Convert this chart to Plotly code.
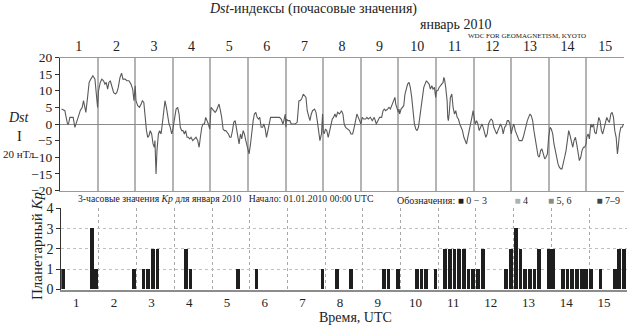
import plotly.graph_objects as go

# ---------------- data ----------------
days = [str(d) for d in range(1, 16)]

dst_hours = [1.0, 2.2, 3.1, 3.7, 4.8, 5.4, 6.3, 7.4, 8.4, 9.5, 10.3, 11.6, 12.9, 14.2, 15.0, 15.9, 16.5, 17.6, 18.6, 19.7,
             21.0, 22.3, 23.1, 24.0, 24.6, 25.7, 26.7, 27.8, 28.7, 29.5, 30.4, 31.2, 32.1, 33.1, 34.2, 35.3, 36.3, 37.2,
             38.3, 39.3, 40.2, 41.5, 42.7, 44.0, 45.3, 46.4, 47.2, 48.0, 48.5, 49.6, 50.7, 51.8, 52.6, 53.5, 54.3, 55.2,
             56.0, 56.8, 57.6, 58.5, 59.4, 60.2, 60.6, 61.3, 61.9, 62.8, 63.6, 64.5, 65.3, 66.2, 67.0, 67.9, 68.7, 69.6,
             70.4, 71.3, 71.9, 73.0, 74.1, 75.1, 76.0, 76.8, 77.7, 78.5, 79.4, 80.2, 81.1, 81.9, 82.8, 83.6, 84.7, 85.8,
             86.8, 87.9, 88.8, 89.6, 90.5, 91.3, 92.2, 93.0, 93.9, 94.7, 95.6, 96.4, 97.3, 98.1, 99.0, 99.8, 100.7, 101.5,
             102.4, 103.2, 104.1, 105.0, 105.8, 106.7, 107.5, 108.4, 109.2, 110.1, 110.9, 111.8, 112.6, 113.5, 114.3,
             115.2, 116.0, 116.9, 117.7, 118.6, 119.5, 120.3, 120.7, 121.6, 122.4, 123.3, 124.1, 125.0, 125.8, 126.7,
             127.5, 128.4, 129.3, 130.1, 131.0, 131.8, 132.7, 133.5, 134.4, 135.6, 136.9, 138.2, 139.0, 140.1, 141.2,
             142.3, 142.9, 143.8, 144.2, 144.6, 145.4, 146.7, 147.6, 148.9, 150.1, 151.4, 152.5, 153.3, 154.2, 155.3,
             156.1, 157.0, 157.8, 158.7, 159.5, 160.4, 161.2, 162.5, 163.4, 164.2, 165.1, 165.9,
             166.9, 167.6, 168.0, 168.6, 169.5, 170.3, 171.2, 172.1, 172.9, 173.8, 174.6, 175.5, 176.3, 177.2, 178.4,
             179.7, 180.6, 181.4, 182.3, 183.6, 184.8, 185.7, 186.8, 187.8, 188.7, 189.5, 190.4, 191.2, 192.1, 192.9,
             193.8, 195.1, 195.9, 196.8, 198.1, 199.3, 200.6, 201.9, 202.8, 204.0, 205.3, 206.2, 207.0, 207.9, 209.1,
             210.0, 210.9, 212.1, 213.0, 213.8, 214.3, 215.1, 216.0, 216.4, 216.8, 217.7, 218.5, 219.4, 220.2, 221.1,
             221.9, 222.8, 223.6, 224.5, 225.3, 226.2, 227.1, 227.9, 228.8, 229.6, 230.5, 231.3, 232.2, 233.0, 233.9,
             234.7, 235.6, 236.4, 237.3, 238.1, 239.0, 239.4, 239.8, 240.3, 241.1, 242.0, 242.8, 243.7, 244.5, 245.0,
             245.4, 246.2, 247.1, 247.5, 247.9, 248.4, 249.2, 250.1, 250.9, 251.8, 252.6, 253.5, 254.3, 255.2, 256.0,
             256.9, 257.8, 258.6, 259.5, 260.3, 261.2, 262.0, 262.9, 263.7, 264.2, 265.0, 265.9, 266.7, 267.6, 268.4,
             269.3, 270.1, 271.0, 271.8, 272.7, 273.5, 274.4, 275.2, 276.1, 276.9, 277.8, 278.7, 279.5, 280.4, 281.2,
             282.1, 282.9, 283.8, 284.6, 285.5, 286.3, 287.2, 288.0, 288.9, 289.7, 290.6, 291.4, 292.3, 293.1, 294.0,
             294.9, 295.7, 296.6, 297.4, 298.3, 299.1, 300.0, 300.8, 301.7, 302.5, 303.4, 304.2, 305.1, 305.9, 306.8,
             307.6, 308.5, 309.4, 310.2, 311.1, 311.9, 312.8, 313.6, 314.5, 315.3, 316.2, 317.0, 317.9, 318.7, 319.6,
             320.4, 321.3, 322.1, 323.0, 323.8, 324.7, 325.6, 326.4, 327.3, 328.1, 329.0, 329.8, 330.7, 331.5, 332.4,
             333.2, 334.1, 334.9, 335.8, 336.2, 337.1, 337.9, 338.8, 339.6, 340.5, 341.3, 342.2, 343.0, 343.9, 344.7,
             345.6, 346.4, 347.3, 348.2, 349.0, 349.9, 350.7, 351.6, 352.4, 353.3, 354.1, 355.0, 355.8, 356.3, 357.1,
             358.0, 358.8, 359.7]

dst_values = [4.5, 4.3, 4, 2.5, 0, 0, 2, 2, 2, -1, 0, 2, 4, 5, 7, 4, 3.5, 8, 12.5, 13.5,
              14.5, 13.5, 10, 5, 10, 12.5, 13.5, 13, 12, 12.5, 10.5, 12.5, 13, 11, 9.5, 9, 9.5, 11,
              14, 15.3, 13.5, 13.5, 13, 13, 12, 10.5, 7, 11.5, 7, 5.5, 5, 6, 7, 6.5, 2, -2,
              -4, -3.5, -2, -3, -6, -7, -5, -15, -8, -3, -2, -3, 0, 5, 7, 5, 2, 0,
              -1, -3, -2, 2, 4.5, 5, 3, -1, -2, -2, -3, -2, -4, -4, -4.5, -4, -5, -4.5,
              -4, -5, -7, -4, -1, 0, 0, 2, 1, 0, -1.5, 5, 4.5, 4, 3.5, 4, 5, 6,
              4, 2, -1.5, -2, -2, -2.5, -3, -4, -4, -2, 0.5, 1, -1, -4, -6,
              -3, -4.5, -2, -3, -5, -7, -8.5, -9, -6, -2, 1, 3, 3.5, 2, 1.5,
              2, -1, -1, 0, -1.5, -4, -2, 0, 2, 2, 2, 2, 2, 2, 1.5,
              0, 1, 3, -1, 1.5, 1, 1, 0, 0, 0, 0.5, 7, 7, 7.5, 9,
              8.5, 8, 4, 2, 1, 3, 4, 4.5, 3.5, 1, -2, -5,
              -3, 3, -2, -3, -1.5, -2, -4, -2, 0, 1.5, 2, 3, 2, 3.5, 3,
              4, 3, 0, -1, -1.5, -2, -3, -3, -1, 1, 3, 2, 1, 0, 2,
              1.5, 1.5, 2, 1.5, 2, 1, 2, 0, 1, 2, 2, 4, 4.5, 4, 4.5,
              5, 4.5, 6, 7, 8, 6, 4.5, 3.5, 4.5, 3, 4.5, 5, 5.5, 9, 11,
              12, 12.5, 11, 8, 4, 0, -1.5, -2, -1, 2, 6, 9, 11, 12, 13,
              12.5, 12, 10.5, 11.5, 10.5, 11, 9.5, 8, 10, 10, 11, 11.5, 12, 12.5, 14,
              13.5, 11, 7, 2, 1, 3, 8, 9, 5, 3, 4, 2, 1.5, 0, -1,
              -2, -4, -5, -6, -4, -2, -1, 2, 4, 2, 0, 1, 0, -2, -1,
              0, -1, -3, -4, -3, 0, 1, 1.5, 1, -1, -2, -3, -2, -1, 0,
              -1, -3, -1, -0.5, 1, 1, 0, -3, -1, 0, -2, -3, -4, -5, -5,
              -5, -4, -2, -1, 1, 2, 3, 2.5, 1, -2, -5, -7, -9.5, -10, -8,
              -7.5, -9, -10.5, -10, -9, -4, -1, -1.5, -3, -6, -8, -10.5, -12, -13, -13.5,
              -13.5, -12, -10, -8, -5, -2, -3.5, -5.5, -7, -5, -4, -6, -9, -11, -10,
              -8, -7, -7, -6, -4, -3, -4.5, 0, -1, 0, -2.5, -3, -1, 2, 1,
              -2, -3, -1, 1, 2, 1, 0.5, 3, 3.5, 2, -2, -4, -9, -7, -3,
              -1, -1, 0]

# Kp, 3-hourly, 8 values per day, Jan 1..15 2010
kp_values = [1, 0, 0, 0, 0, 0, 3, 1,
             0, 0, 0, 0, 0, 0, 0, 1,
             0, 1, 1, 2, 2, 0, 0, 0,
             0, 0, 2, 1, 0, 0, 0, 0,
             0, 0, 0, 0, 0, 1, 0, 0,
             0, 1, 0, 0, 0, 0, 0, 0,
             0, 0, 0, 0, 0, 0, 0, 1,
             0, 0, 1, 0, 0, 1, 0, 0,
             0, 0, 0, 0, 1, 1, 0, 1,
             0, 0, 0, 1, 1, 1, 0, 1,
             0, 2, 2, 2, 2, 2, 1, 1,
             1, 2, 0, 0, 0, 0, 1, 2,
             3, 2, 1, 1, 1, 2, 0, 2,
             2, 0, 1, 1, 1, 1, 1, 1,
             1, 0, 1, 0, 0, 1, 2, 2]
kp_hours = [3 * i + 1.5 for i in range(len(kp_values))]

dst_ticks = [-20, -15, -10, -5, 0, 5, 10, 15, 20]
kp_ticks = [0, 1, 2, 3, 4]

# ---------------- figure ----------------
W, H = 627, 325
SERIF = "Liberation Serif"


def px(x):
    return x / W


def py(y):
    return 1 - y / H


fig = go.Figure()

fig.add_trace(go.Scatter(x=dst_hours, y=dst_values, mode="lines",
                         line=dict(color="#5a5a5a", width=1.1),
                         xaxis="x", yaxis="y", showlegend=False))

fig.add_trace(go.Bar(x=kp_hours, y=kp_values, width=2.4,
                     marker=dict(color="#1e1e1e", line=dict(width=0)),
                     xaxis="x2", yaxis="y2", showlegend=False))

day_bounds = [24 * k for k in range(1, 15)]
day_centers = [24 * k + 12 for k in range(15)]
kp_label_pos = [24 * k + 9.5 for k in range(15)]

fig.update_layout(
    width=W, height=H,
    margin=dict(l=0, r=0, t=0, b=0, autoexpand=False),
    paper_bgcolor="white", plot_bgcolor="white",
    font=dict(family=SERIF, size=13, color="#222"),
    bargap=0,
    xaxis=dict(domain=[px(60), px(624)], range=[0, 360], anchor="y", automargin=False,
               side="top", tickvals=day_centers, ticktext=days, ticks="",
               showgrid=False, zeroline=False,
               showline=True, linecolor="#999", linewidth=1, mirror=True,
               tickfont=dict(size=14, family=SERIF), ticklabelstandoff=0,
               minor=dict(tickvals=day_bounds, showgrid=True, gridcolor="#b4b4b4",
                          gridwidth=1.6, ticks="")),
    yaxis=dict(domain=[py(190.5), py(57.5)], range=[-20, 20], anchor="x", automargin=False,
               tickvals=dst_ticks,
               ticktext=[("\u2212" + str(-t)) if t < 0 else str(t) for t in dst_ticks],
               ticks="outside", ticklen=4, tickcolor="#333",
               showline=True, linecolor="#333", linewidth=1,
               showgrid=False, zeroline=True, zerolinecolor="#8a8a8a", zerolinewidth=1,
               tickfont=dict(size=13.5, family=SERIF)),
    xaxis2=dict(domain=[px(61.3), px(626.7)], range=[0, 360], anchor="y2", automargin=False,
                tickvals=kp_label_pos, ticktext=days, ticks="",
                showgrid=False, zeroline=False,
                showline=True, linecolor="#8c8c8c", linewidth=2,
                tickfont=dict(size=13, family=SERIF), ticklabelstandoff=0,
                minor=dict(tickvals=day_bounds, showgrid=True, gridcolor="#a8a8a8",
                           gridwidth=1, griddash="dot", ticks="")),
    yaxis2=dict(domain=[py(289.5), py(208.3)], range=[0, 4], anchor="x2", automargin=False,
                tickvals=kp_ticks, ticks="outside", ticklen=4, tickcolor="#333",
                showline=True, linecolor="#333", linewidth=1,
                showgrid=True, gridcolor="#c0c0c0", griddash="dot", gridwidth=1,
                zeroline=False, tickfont=dict(size=14, family=SERIF)),
)

ann = []


def add_text(text, x, y, size, xanchor="center", yanchor="middle", angle=0, color="#222"):
    ann.append(dict(text=text, x=px(x), y=py(y), xref="paper", yref="paper",
                    showarrow=False, xanchor=xanchor, yanchor=yanchor, textangle=angle,
                    font=dict(family=SERIF, size=size, color=color)))


add_text("<i>Dst</i>-индексы (почасовые значения)", 313, 9, 14)
add_text("январь 2010", 455, 25, 14)
add_text("WDC FOR GEOMAGNETISM, KYOTO", 527, 35.5, 7)
add_text("<i>Dst</i>", 19, 117, 14)
add_text("I", 19, 136.5, 14.5)
add_text("20 нТл", 0.5, 153.5, 11, xanchor="left")
add_text("3-часовые значения <i>Kp</i> для января 2010   Начало: 01.01.2010 00:00 UTC",
         76, 198, 9.7, xanchor="left")
add_text("Обозначения: <span style='color:#1e1e1e'>■</span> 0 \u2212 3"
         "           <span style='color:#b0b0b0'>■</span> 4"
         "        <span style='color:#8a8a8a'>■</span> 5, 6"
         "          <span style='color:#444'>■</span> 7\u20139",
         395, 200, 10, xanchor="left")
add_text("Планетарный <i>Kp</i>", 37, 246, 15, angle=-90)
add_text("Время, UTC", 355, 317, 14)

fig.update_layout(annotations=ann)

fig.write_html("out.html")
